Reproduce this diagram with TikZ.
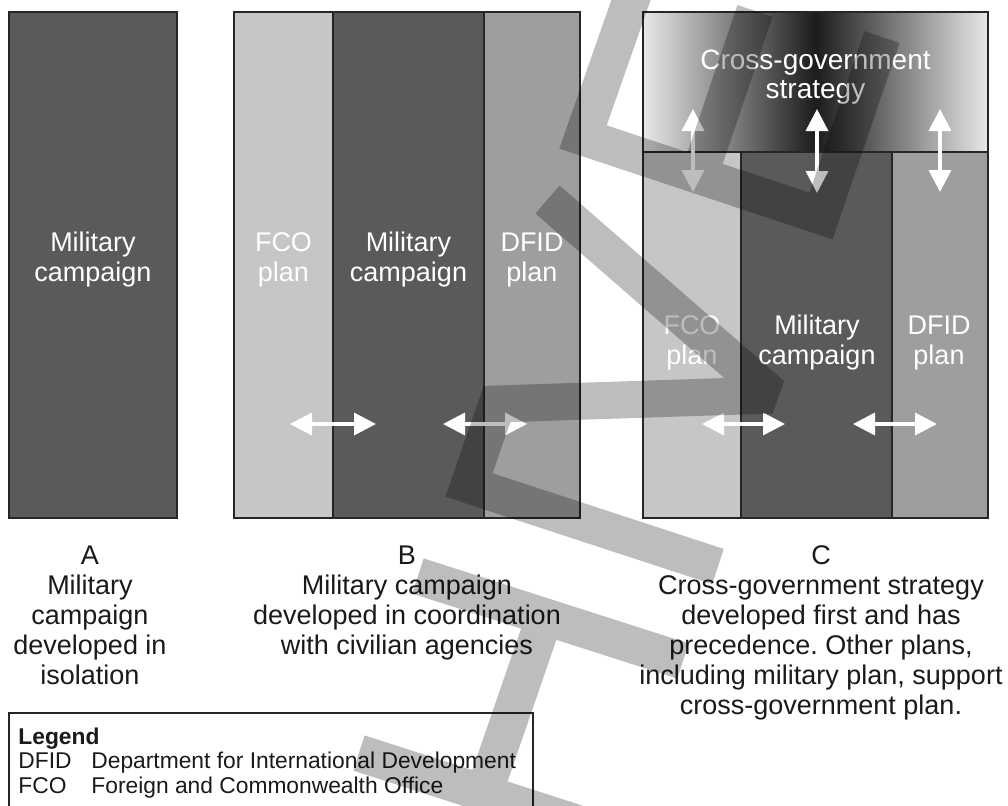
\documentclass[tikz,border=0pt]{standalone}
\usepackage{fontspec}
\setmainfont{Liberation Sans}
\usetikzlibrary{arrows.meta}
\frenchspacing
\definecolor{milgray}{HTML}{5A5A5A}
\definecolor{fcogray}{HTML}{C5C6C5}
\definecolor{dfidgray}{HTML}{9D9E9D}
\definecolor{edgecol}{HTML}{262626}
\definecolor{gradlight}{HTML}{E8E8E8}
\definecolor{graddark}{HTML}{1C1C1C}
\definecolor{inkcol}{HTML}{1A1A1A}
\begin{document}
\begin{tikzpicture}[x=0.5pt,y=-0.5pt,
  panel/.style={draw=edgecol,line width=1pt},
  coltext/.style={text=white,align=center,inner sep=0pt,font=\fontsize{13.5}{15}\selectfont},
  titletext/.style={text=white,align=center,inner sep=0pt,font=\fontsize{14}{14.5}\selectfont},
  capt/.style={text=inkcol,align=center,inner sep=0pt,font=\fontsize{13.5}{15}\selectfont},
  legtext/.style={text=inkcol,anchor=base west,inner sep=0pt,font=\fontsize{11.4}{12.3}\selectfont},
  linkarrow/.style={draw=white,line width=1.75pt,{Triangle[length=11pt,width=11pt]}-{Triangle[length=11pt,width=11pt]}},
  watermark/.style={draw=black,draw opacity=0.26,line width=18.5pt,line join=miter,miter limit=2,line cap=butt}
]
\useasboundingbox (0,0) rectangle (1008,805);
\fill[white] (0,0) rectangle (1008,805);

% ---------- Panel A ----------
\filldraw[panel,fill=milgray] (9,12) rectangle (177,518);
\node[coltext] (aMil) at (93,260) {Military\\campaign};

% ---------- Panel B ----------
\fill[fcogray] (234,12) rectangle (333,518);
\fill[milgray] (333,12) rectangle (484,518);
\fill[dfidgray] (484,12) rectangle (580,518);
\draw[panel] (234,12) rectangle (580,518);
\draw[panel] (333,12) -- (333,518);
\draw[panel] (484,12) -- (484,518);
\node[coltext] (bFco) at (283.5,260) {FCO\\plan};
\node[coltext] (bMil) at (408.5,260) {Military\\campaign};
\node[coltext] (bDfid) at (532,260) {DFID\\plan};

% ---------- Panel C ----------
\shade[left color=gradlight,right color=gradlight,middle color=graddark] (643,12) rectangle (988,152);
\fill[fcogray] (643,152) rectangle (741,518);
\fill[milgray] (741,152) rectangle (892,518);
\fill[dfidgray] (892,152) rectangle (988,518);
\draw[panel] (643,12) rectangle (988,518);
\draw[panel] (643,152) -- (988,152);
\draw[panel] (741,152) -- (741,518);
\draw[panel] (892,152) -- (892,518);
\node[titletext] (cStrat) at (815.5,77) {Cross-government\\strategy};
\node[coltext] (cFco) at (692,343) {FCO\\plan};
\node[coltext] (cMil) at (817,343) {Military\\campaign};
\node[coltext] (cDfid) at (939,343) {DFID\\plan};

% ---------- Arrows ----------
\coordinate (b1l) at (290,424); \coordinate (b1r) at (376,424);
\coordinate (b2l) at (443,424); \coordinate (b2r) at (527,424);
\coordinate (c1l) at (702,424); \coordinate (c1r) at (785,424);
\coordinate (c2l) at (853,424); \coordinate (c2r) at (937,424);
\coordinate (v1t) at (693,109); \coordinate (v1b) at (693,192);
\coordinate (v2t) at (817,109); \coordinate (v2b) at (817,193);
\coordinate (v3t) at (940,109); \coordinate (v3b) at (940,192);
\draw[linkarrow] (b1l) -- (b1r);
\draw[linkarrow] (b2l) -- (b2r);
\draw[linkarrow] (c1l) -- (c1r);
\draw[linkarrow] (c2l) -- (c2r);
\draw[linkarrow] (v1t) -- (v1b);
\draw[linkarrow] (v2t) -- (v2b);
\draw[linkarrow] (v3t) -- (v3b);

% ---------- Captions ----------
\node[capt] (captA) at (90,615.3) {A\\Military\\campaign\\developed in\\isolation};
\node[capt] (captB) at (407,603.2) {B\\Military campaign\\developed in coordination\\with civilian agencies};
\node[capt] (captC) at (821,633.2) {C\\Cross-government strategy\\developed first and has\\precedence. Other plans,\\including military plan, support\\cross-government plan.};

% ---------- Legend ----------
\draw[draw=edgecol,line width=0.6pt] (9,713) rectangle (533,840);
\node[legtext,font=\fontsize{11.4}{12.3}\selectfont\bfseries] (legHead) at (18,744) {Legend};
\node[legtext] (legDfidA) at (18,768) {DFID};
\node[legtext] (legDfidB) at (91,768) {Department for International Development};
\node[legtext] (legFcoA) at (18,793) {FCO};
\node[legtext] (legFcoB) at (91,793) {Foreign and Commonwealth Office};

% ---------- Watermark strokes ----------
\draw[watermark]
  (645,-40) -- (583,137) -- (821,216) -- (882,37)
  (755,11) -- (699,176)
  (547.5,199.5) -- (772,395) -- (497,404) -- (469,485) -- (718,566.5)
  (418,576) -- (683,661)
  (545,616) -- (483,796)
  (359,753) -- (660,850);
\end{tikzpicture}
\end{document}
